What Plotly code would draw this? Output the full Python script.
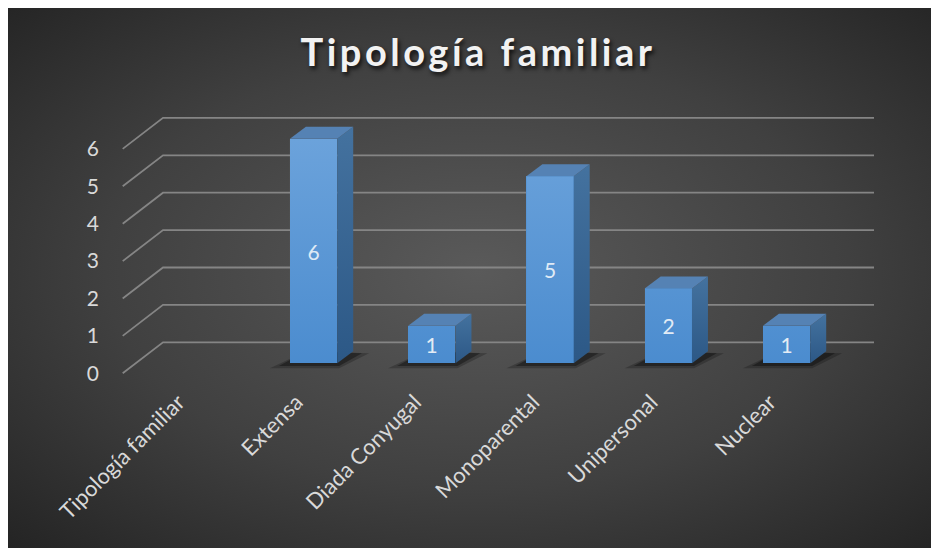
import base64
import plotly.graph_objects as go

# ---------------- data ----------------
categories = ["Tipología familiar", "Extensa", "Diada Conyugal", "Monoparental", "Unipersonal", "Nuclear"]
values = [None, 6, 1, 5, 2, 1]
y_ticks = [0, 1, 2, 3, 4, 5, 6]
chart_title = "Tipología familiar"

# ---------------- geometry (pixels, page coords minus body margin) ----------------
W, H = 939, 548
OFF = 8  # default page body margin
PX_L, PX_R = 115 - OFF, 885 - OFF
PX_T, PX_B = 100 - OFF, 380 - OFF
CAT0_PX = 195.3 - OFF
CAT_STEP_PX = 118.25
ZERO_PX = 363.2 - OFF
UNIT_PX = 37.4
BAR_W = 0.40

x0 = -(CAT0_PX - PX_L) / CAT_STEP_PX
x1 = x0 + (PX_R - PX_L) / CAT_STEP_PX
y0 = -(PX_B - ZERO_PX) / UNIT_PX
y1 = (ZERO_PX - PX_T) / UNIT_PX


def dx(px):
    return px / CAT_STEP_PX


def dy(px):
    return px / UNIT_PX


def xpix(px):
    return x0 + (px - OFF - PX_L) / CAT_STEP_PX


# wall / grid geometry
GX_FRONT = xpix(122.7)
GX_BACK = xpix(163.0)
GX_RIGHT = xpix(874.0)
G_OFF_FRONT = dy(-(373.3 - OFF - ZERO_PX))
G_OFF_BACK = dy(ZERO_PX - (342.3 - OFF))

# bar depth
DDX = dx(16)
DDY = dy(12)

# ---------------- background ----------------
svg = f'''<svg xmlns="http://www.w3.org/2000/svg" width="939" height="548" viewBox="0 0 939 548" preserveAspectRatio="none">
<defs><radialGradient id="g" cx="50%" cy="48%" r="72%">
<stop offset="0%" stop-color="#5a5a5a"/>
<stop offset="55%" stop-color="#404040"/>
<stop offset="100%" stop-color="#232323"/>
</radialGradient></defs>
<rect width="939" height="548" fill="url(#g)"/></svg>'''
bg_uri = "data:image/svg+xml;base64," + base64.b64encode(svg.encode()).decode()

fig = go.Figure()

# ---------------- shapes: gridlines & shadows (below traces) ----------------
shapes = []
for v in y_ticks:
    path = (f"M {GX_FRONT},{v + G_OFF_FRONT} L {GX_BACK},{v + G_OFF_BACK} "
            f"L {GX_RIGHT},{v + G_OFF_BACK}")
    shapes.append(dict(type="path", path=path, xref="x", yref="y", layer="below",
                       line=dict(color="#858585", width=1.8)))

for i, v in enumerate(values):
    if v is None:
        continue
    xl, xr = i - BAR_W / 2, i + BAR_W / 2
    for grow, op in [(1.0, 0.22), (0.55, 0.35)]:
        path = (f"M {xl - dx(20) * grow},{-dy(5) * grow} "
                f"L {xr + dx(2)},{-dy(5) * grow} "
                f"L {xr + DDX + dx(16) * grow},{DDY - dy(2)} "
                f"L {xl + DDX},{DDY} Z")
        shapes.append(dict(type="path", path=path, xref="x", yref="y", layer="below",
                           fillcolor=f"rgba(0,0,0,{op})", line=dict(width=0)))

# ---------------- bar front faces ----------------
fig.add_trace(go.Bar(
    x=list(range(len(categories))), y=values, width=BAR_W,
    marker=dict(color="#4b8ccf", line=dict(width=0)),
    text=[("" if v is None else str(v)) for v in values],
    textposition="inside", insidetextanchor="middle", constraintext="none",
    textfont=dict(family="Lato, sans-serif", size=21, color="#e4ecf5"),
    hoverinfo="skip", showlegend=False))

# ---------------- bar side, top faces & front sheen ----------------
for i, v in enumerate(values):
    if v is None:
        continue
    xl, xr = i - BAR_W / 2, i + BAR_W / 2
    fig.add_trace(go.Scatter(
        x=[xl, xr, xr, xl, xl], y=[0, 0, v, v, 0],
        mode="lines", fill="toself", line=dict(width=0),
        fillgradient=dict(type="vertical", start=0, stop=6,
                          colorscale=[[0, "rgba(190,220,250,0.0)"],
                                      [1, "rgba(190,220,250,0.28)"]]),
        hoverinfo="skip", showlegend=False))
    fig.add_trace(go.Scatter(
        x=[xr, xr + DDX, xr + DDX, xr, xr],
        y=[0, DDY, v + DDY, v, 0],
        mode="lines", fill="toself", line=dict(width=0),
        fillgradient=dict(type="vertical",
                          colorscale=[[0, "#2c5886"], [1, "#44729f"]]),
        hoverinfo="skip", showlegend=False))
    fig.add_trace(go.Scatter(
        x=[xl, xr, xr + DDX, xl + DDX, xl],
        y=[v, v, v + DDY, v + DDY, v],
        mode="lines", fill="toself", line=dict(width=0),
        fillcolor="#5582b4", hoverinfo="skip", showlegend=False))

fig.update_layout(
    width=W, height=H,
    margin=dict(l=0, r=0, t=0, b=0),
    paper_bgcolor="white",
    plot_bgcolor="rgba(0,0,0,0)",
    shapes=shapes,
    images=[dict(source=bg_uri, xref="paper", yref="paper",
                 x=0, y=1, sizex=1, sizey=1,
                 xanchor="left", yanchor="top", sizing="stretch", layer="below")],
    title=dict(text='<span style="letter-spacing:3.5px">' + chart_title + '</span>',
               x=(478 - OFF) / W, y=1 - (53 - OFF) / H, xref="container", yref="container",
               xanchor="center", yanchor="middle",
               font=dict(family="Lato, sans-serif", size=38, weight="bold", color="#f2f2f2",
                         shadow="2px 3px 4px rgba(0,0,0,0.75)")),
    xaxis=dict(domain=[PX_L / W, PX_R / W], range=[x0, x1],
               tickmode="array", tickvals=list(range(len(categories))), ticktext=categories,
               tickangle=-45, showgrid=False, zeroline=False, showline=False,
               ticks="", ticklabelshift=-17, ticklabelstandoff=4,
               tickfont=dict(family="Lato, sans-serif", size=22, color="#d9d9d9"),
               fixedrange=True, automargin=False),
    yaxis=dict(domain=[1 - PX_B / H, 1 - PX_T / H], range=[y0, y1],
               tickmode="array", tickvals=y_ticks, ticktext=[str(t) for t in y_ticks],
               showgrid=False, zeroline=False, showline=False, ticks="",
               ticklabelshift=10, ticklabelstandoff=15,
               tickfont=dict(family="Lato, sans-serif", size=21, color="#d9d9d9"),
               fixedrange=True, automargin=False),
    bargap=0,
)

fig.write_html("out.html")
